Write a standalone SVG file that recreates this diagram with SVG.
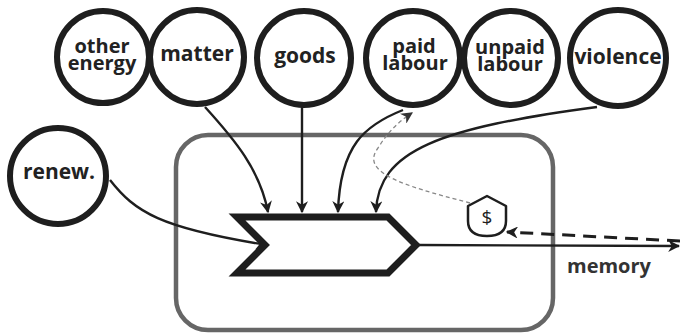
<svg xmlns="http://www.w3.org/2000/svg" width="680" height="336" viewBox="0 0 680 336">
<style>
.node circle{fill:#fff;stroke:#1e1e1e;stroke-width:6}
.lbl{font-family:"Open Sans","Noto Sans",sans-serif;font-weight:bold;font-size:21px;fill:#222;text-anchor:middle}
.lbl2{font-family:"Open Sans","Noto Sans",sans-serif;font-weight:bold;font-size:20px;fill:#222;text-anchor:middle}
.conn{fill:none;stroke:#1e1e1e;stroke-width:2.4}
</style>
<defs>
<marker id="ah" viewBox="0 0 10 10" refX="9" refY="5" markerWidth="5" markerHeight="5" orient="auto" markerUnits="strokeWidth">
<path d="M0,0 L10,5 L0,10 L3,5 Z" fill="#1e1e1e"/>
</marker>
<marker id="ahs" viewBox="0 0 10 10" refX="9" refY="5" markerWidth="9" markerHeight="9" orient="auto" markerUnits="strokeWidth">
<path d="M0,0 L10,5 L0,10 L3,5 Z" fill="#333"/>
</marker>
<marker id="ahd" viewBox="0 0 10 10" refX="9" refY="5" markerWidth="4" markerHeight="4" orient="auto" markerUnits="strokeWidth">
<path d="M0,0 L10,5 L0,10 L3,5 Z" fill="#1e1e1e"/>
</marker>
</defs>
<g id="boundary">
<rect x="176" y="135" width="377" height="195" rx="32" fill="none" stroke="#666" stroke-width="4.5"/>
</g>
<g id="connectors">
<path class="conn" d="M205,107 C235,140 260,170 268,212" marker-end="url(#ah)"/>
<path class="conn" d="M302,107 L302,212" marker-end="url(#ah)"/>
<path class="conn" d="M403,110 C365,125 340,145 338,212" marker-end="url(#ah)"/>
<path class="conn" d="M597,107 C440,128 378,150 376,212" marker-end="url(#ah)"/>
<path class="conn" d="M110,180 C135,212 160,228 267,245" marker-end="url(#ah)"/>
<path class="conn" d="M418,245 L679,246" marker-end="url(#ah)"/>
<path d="M680,241 L507,232" fill="none" stroke="#1e1e1e" stroke-width="3" stroke-dasharray="13,8" marker-end="url(#ahd)"/>
<path d="M470,203 C400,185 360,172 378,148 C388,132 398,122 412,113" fill="none" stroke="#888" stroke-width="1.3" stroke-dasharray="4,3" marker-end="url(#ahs)"/>
</g>
<g id="process">
<polygon points="237,217 388,217 416,245 388,273 237,273 265,245" fill="#fff" stroke="#1e1e1e" stroke-width="7" stroke-linejoin="miter"/>
</g>
<g id="money">
<path d="M487,196 L506,206 L506,221 Q506,236 487,236 Q468,236 468,221 L468,206 Z" fill="#fff" stroke="#1e1e1e" stroke-width="2.5" stroke-linejoin="round"/>
<text x="487" y="224" font-family="Open Sans,sans-serif" font-size="19" fill="#1e1e1e" text-anchor="middle">$</text>
</g>
<g id="other-energy" class="node"><circle cx="103" cy="57" r="46"/><text class="lbl2" x="102" y="53">other</text><text class="lbl2" x="102" y="70">energy</text></g>
<g id="matter" class="node"><circle cx="197" cy="57" r="47"/><text class="lbl" x="197" y="61">matter</text></g>
<g id="goods" class="node"><circle cx="304" cy="58" r="47"/><text class="lbl" x="305" y="63">goods</text></g>
<g id="paid-labour" class="node"><circle cx="413" cy="58" r="47"/><text class="lbl2" x="414" y="53">paid</text><text class="lbl2" x="415" y="70">labour</text></g>
<g id="unpaid-labour" class="node"><circle cx="511" cy="58" r="47"/><text class="lbl2" x="510" y="54">unpaid</text><text class="lbl2" x="510" y="71">labour</text></g>
<g id="violence" class="node"><circle cx="618" cy="58" r="48"/><text class="lbl" x="618" y="64">violence</text></g>
<g id="renew" class="node"><circle cx="58" cy="176" r="48"/><text class="lbl" x="59" y="179">renew.</text></g>
<g id="memory-label"><text x="567" y="273" font-family="Open Sans,sans-serif" font-weight="bold" font-size="20" fill="#333">memory</text></g>
</svg>
